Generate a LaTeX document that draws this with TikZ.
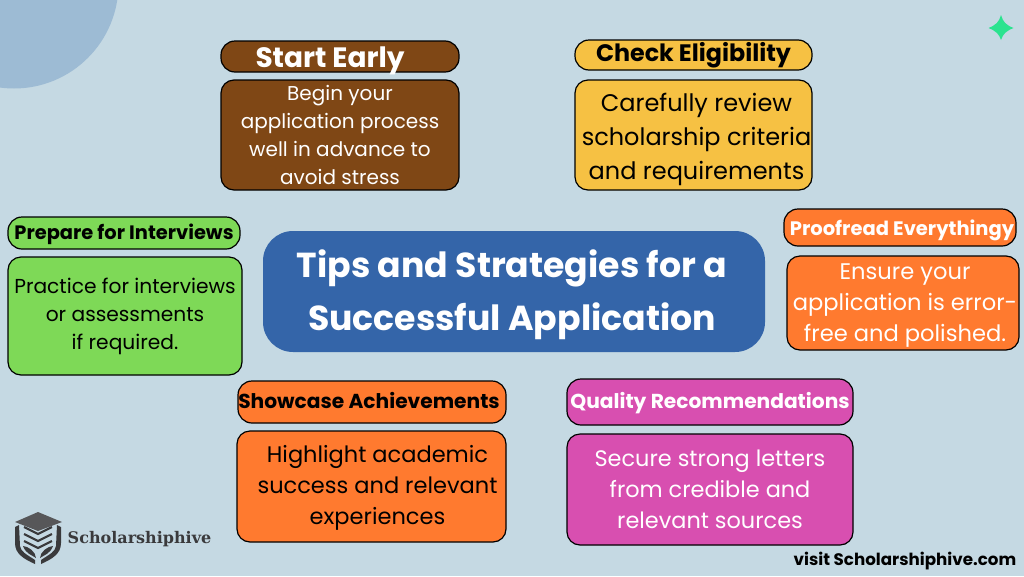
\documentclass[tikz,border=0pt]{standalone}
\usepackage{fontspec}
\setmainfont{Poppins}
\newfontfamily\logofont{DejaVu Serif}
\definecolor{bgblue}{HTML}{C5D9E3}
\definecolor{cornerblue}{HTML}{9DBBD4}
\definecolor{brownbox}{HTML}{7F4715}
\definecolor{yellowbox}{HTML}{F6C143}
\definecolor{greenbox}{HTML}{7ED957}
\definecolor{orangebox}{HTML}{FF7A2F}
\definecolor{pinkbox}{HTML}{D84FB0}
\definecolor{centerblue}{HTML}{3465A9}
\definecolor{sparkgreen}{HTML}{2BE38F}
\definecolor{logogray}{HTML}{3A3A3C}
\begin{document}
\begin{tikzpicture}[x=1pt, y=-1pt,
      head/.style = {draw=black, line width=1.2pt, rounded corners=14pt, inner sep=0pt, align=center},
      body/.style = {draw=black, line width=1.2pt, rounded corners=13pt, inner sep=0pt, align=center},
      words/.style = {inner sep=0pt, align=center},
      edge/.style = {draw=none, fill=logogray}]
    % background
    \fill[bgblue] (0, 0) rectangle (1024, 576);
    \useasboundingbox (0, 0) rectangle (1024, 576);
    \begin{scope}
      \clip (0, 0) rectangle (1024, 576);
      \fill[cornerblue] (14, -16) circle (104.5);
    \end{scope}
    \fill[sparkgreen] (1001, 15) .. controls (1003, 22) and (1006, 25) .. (1013.5, 28)
      .. controls (1006, 31) and (1003, 34) .. (1001, 40)
      .. controls (999, 34) and (996, 31) .. (988.5, 28)
      .. controls (996, 25) and (999, 22) .. (1001, 15) -- cycle;

    % center
    \node[body, fill=centerblue, rounded corners=30pt, draw=none, minimum width=502pt, minimum height=121pt] (tips) at (514, 291.5) {};
    \node[words, text=white, font=\fontsize{34.7}{53}\selectfont\bfseries] (tipstext) at (512, 294.5)
      {Tips and Strategies for a\\Successful Application};

    % start early
    \node[head, fill=brownbox, minimum width=238pt, minimum height=31pt] (early) at (340, 56.5) {};
    \node[words, text=white, font=\fontsize{28}{30}\selectfont\bfseries] (earlyhead) at (330, 61) {Start Early};
    \node[body, fill=brownbox, text=white, minimum width=238pt, minimum height=110pt,
      font=\fontsize{20}{28}\selectfont] (earlytext) at (340, 135)
      {Begin your\\application process\\well in advance to\\avoid stress};

    % check eligibility
    \node[head, fill=yellowbox, minimum width=237pt, minimum height=30pt,
      font=\fontsize{23.8}{26}\selectfont\bfseries] (check) at (693.5, 55) {Check Eligibility};
    \node[body, fill=yellowbox, minimum width=237pt, minimum height=110pt] (checkbox) at (693.5, 135) {};
    \node[words, font=\fontsize{24}{34}\selectfont] (checktext) at (696.5, 139)
      {Carefully review\\scholarship criteria\\and requirements};

    % prepare for interviews
    \node[head, fill=greenbox, minimum width=232pt, minimum height=32pt] (prepare) at (124, 233) {};
    \node[words, font=\fontsize{19.4}{24}\selectfont\bfseries] (preparehead) at (124, 234.5) {Prepare for Interviews};
    \node[body, fill=greenbox, minimum width=234pt, minimum height=118pt,
      font=\fontsize{20.2}{28}\selectfont] (preparetext) at (125, 316)
      {Practice for interviews\\or assessments\\if required.};

    % proofread
    \node[head, fill=orangebox, minimum width=232pt, minimum height=37pt] (proof) at (900, 227.5) {};
    \node[words, text=white, font=\fontsize{19.5}{24}\selectfont\bfseries] (proofhead) at (902, 230) {Proofread Everythingy};
    \node[body, fill=orangebox, minimum width=232pt, minimum height=94pt] (proofbox) at (903, 303) {};
    \node[words, text=white, font=\fontsize{22.6}{31}\selectfont] (prooftext) at (905, 306)
      {Ensure your\\application is error-\\free and polished.};

    % showcase
    \node[head, fill=orangebox, minimum width=268pt, minimum height=42pt] (show) at (372, 402) {};
    \node[words, font=\fontsize{20.2}{24}\selectfont\bfseries] (showhead) at (369, 400) {Showcase Achievements};
    \node[body, fill=orangebox, minimum width=269pt, minimum height=111pt] (showbox) at (371.5, 486.5) {};
    \node[words, font=\fontsize{22.5}{31}\selectfont] (showtext) at (377.5, 488)
      {Highlight academic\\success and relevant\\experiences};

    % quality
    \node[head, fill=pinkbox, minimum width=286pt, minimum height=46pt] (quality) at (710, 402) {};
    \node[words, text=white, font=\fontsize{20.2}{24}\selectfont\bfseries] (qualityhead) at (710, 403) {Quality Recommendations};
    \node[body, fill=pinkbox, text=white, minimum width=286pt, minimum height=111pt,
      font=\fontsize{22.4}{31}\selectfont] (qualitytext) at (710, 489.5)
      {Secure strong letters\\from credible and\\relevant sources};

    % logo
    \fill[logogray!85!white] (38, 512) -- (62, 522) -- (38, 531) -- (15, 522) -- cycle;
    \foreach \y in {0, 7, 14} {
      \draw[logogray, line width=2.2pt] (24, 527+\y) -- (38, 534+\y) -- (52, 527+\y);
    }
    \fill[edge] (15, 527) -- (19, 525) -- (20, 546) .. controls (21, 552) and (26, 554) .. (35, 560)
      -- (35, 564) .. controls (24, 559) and (15, 554) .. (15, 543) -- cycle;
    \fill[edge] (61, 527) -- (57, 525) -- (56, 546) .. controls (55, 552) and (50, 554) .. (41, 560)
      -- (41, 564) .. controls (52, 559) and (61, 554) .. (61, 543) -- cycle;
    \fill[edge] (23, 546) .. controls (28, 546) and (36, 552) .. (36, 558)
      .. controls (32, 555) and (26, 554) .. (23, 546) -- cycle;
    \fill[edge] (53, 546) .. controls (48, 546) and (40, 552) .. (40, 558)
      .. controls (44, 555) and (50, 554) .. (53, 546) -- cycle;
    \node[text=logogray, inner sep=0pt, font=\logofont\fontsize{16}{18}\selectfont\bfseries] (logo) at (139.5, 539) {Scholarshiphive};

    % footer
    \node[inner sep=0pt, font=\fontsize{16.7}{20}\selectfont\bfseries] (visit) at (905, 561) {visit Scholarshiphive.com};
  \end{tikzpicture}
\end{document}
